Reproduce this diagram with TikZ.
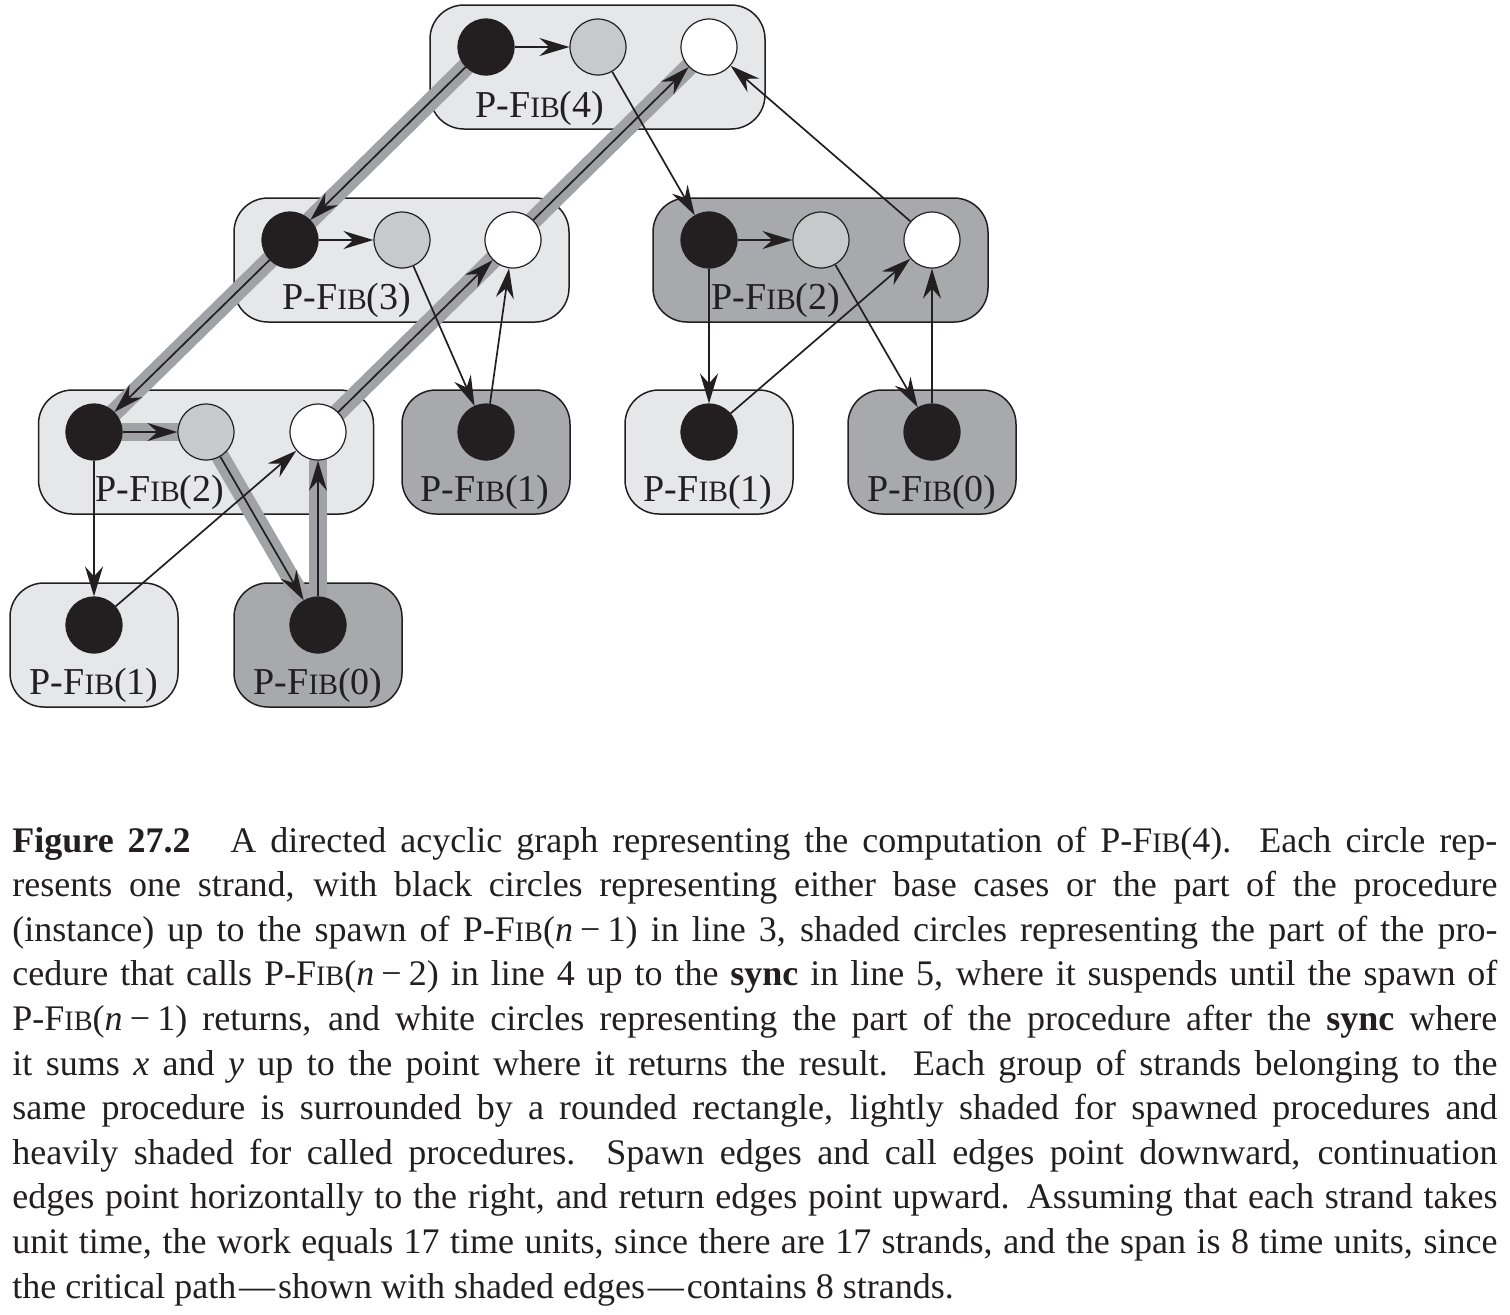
\documentclass[tikz,border=0pt]{standalone}
\usepackage{fontspec}
\setmainfont{Liberation Serif}
\usetikzlibrary{arrows.meta}
\definecolor{ink}{RGB}{35,31,32}
\definecolor{lightbox}{RGB}{230,231,232}
\definecolor{darkbox}{RGB}{167,169,172}
\definecolor{midgray}{RGB}{200,201,203}
\definecolor{bandgray}{RGB}{160,162,165}
\pgfdeclarelayer{boxes}
\pgfdeclarelayer{bands}
\pgfsetlayers{boxes,bands,main}
\newcommand{\labfont}{\fontsize{19pt}{20pt}\selectfont}
\newcommand{\capfont}{\fontsize{18pt}{22.3pt}\selectfont}
\newcommand{\pfl}[1]{P-F{\fontsize{14.8pt}{15pt}\selectfont IB}(#1)}
\newcommand{\pfc}[1]{P-F{\fontsize{14.1pt}{15pt}\selectfont IB}(#1)}
\newcommand{\jline}[1]{\hbox to 742.5pt{#1}}
\newcommand{\mn}{\kern0.2em−\kern0.2em}
\newcommand{\dsh}{\kern0.08em—\kern0.08em}
\begin{document}
\begin{tikzpicture}[x=0.5pt,y=-0.5pt,
  strand/.style={circle, minimum size=28pt, inner sep=0pt, draw=ink, line width=0.6pt},
  blk/.style={strand, fill=ink},
  shd/.style={strand, fill=midgray},
  wht/.style={strand, fill=white},
  procbox/.style={draw=ink, line width=0.75pt, rounded corners=17pt, inner sep=0pt, minimum height=62pt},
  wide/.style={minimum width=167.5pt},
  narrow/.style={minimum width=84pt},
  spawned/.style={procbox, fill=lightbox},
  called/.style={procbox, fill=darkbox},
  edge/.style={draw=ink, line width=0.85pt, -{Stealth[length=15pt,width=9pt,inset=5pt]}},
  crit/.style={draw=bandgray, line width=9pt},
  lbl/.style={font=\labfont, inner sep=0pt, text=ink}
]
\useasboundingbox (0,0) rectangle (1510,1314);

% strands
\node[blk] (a1) at (486,47) {};
\node[shd] (a2) at (598,47) {};
\node[wht] (a3) at (709,47) {};
\node[blk] (b1) at (290,240) {};
\node[shd] (b2) at (402,240) {};
\node[wht] (b3) at (513,240) {};
\node[blk] (c1) at (709,240) {};
\node[shd] (c2) at (821,240) {};
\node[wht] (c3) at (932,240) {};
\node[blk] (d1) at (94,432) {};
\node[shd] (d2) at (206,432) {};
\node[wht] (d3) at (318,432) {};
\node[blk] (e1) at (486,432) {};
\node[blk] (f1) at (709,432) {};
\node[blk] (g1) at (932,432) {};
\node[blk] (h1) at (94,625) {};
\node[blk] (i1) at (318,625) {};

% procedure boxes
\begin{pgfonlayer}{boxes}
\node[spawned, wide] (A) at (597.5,67) {};
\node[spawned, wide] (B) at (401.5,260) {};
\node[called, wide] (C) at (820.5,260) {};
\node[spawned, wide] (D) at (206,452) {};
\node[called, narrow] (E) at (486,452) {};
\node[spawned, narrow] (F) at (709,452) {};
\node[called, narrow] (G) at (932,452) {};
\node[spawned, narrow] (H) at (94,645) {};
\node[called, narrow] (I) at (318,645) {};
\end{pgfonlayer}

% critical path bands
\begin{pgfonlayer}{bands}
\draw[crit] (a1.center) -- (b1.center);
\draw[crit] (b1.center) -- (d1.center);
\draw[crit] (d1.center) -- (d2.center);
\draw[crit] (d2.center) -- (i1.center);
\draw[crit] (i1.center) -- (d3.center);
\draw[crit] (d3.center) -- (b3.center);
\draw[crit] (b3.center) -- (a3.center);
\end{pgfonlayer}

% labels
\node[lbl, anchor=base west] (lA) at (475,117) {\pfl{4}};
\node[lbl, anchor=base west] (lB) at (282,309) {\pfl{3}};
\node[lbl, anchor=base west] (lC) at (711,309) {\pfl{2}};
\node[lbl, anchor=base west] (lD) at (95,501) {\pfl{2}};
\node[lbl, anchor=base] (lE) at (485,501) {\pfl{1}};
\node[lbl, anchor=base] (lF) at (708,501) {\pfl{1}};
\node[lbl, anchor=base] (lG) at (932,501) {\pfl{0}};
\node[lbl, anchor=base] (lH) at (94,694) {\pfl{1}};
\node[lbl, anchor=base] (lI) at (318,694) {\pfl{0}};

% continuation edges
\draw[edge] (a1) -- (a2);
\draw[edge] (b1) -- (b2);
\draw[edge] (c1) -- (c2);
\draw[edge] (d1) -- (d2);
% spawn and call edges
\draw[edge] (a1) -- (b1);
\draw[edge] (a2) -- (c1);
\draw[edge] (b1) -- (d1);
\draw[edge] (b2) -- (e1);
\draw[edge] (c1) -- (f1);
\draw[edge] (c2) -- (g1);
\draw[edge] (d1) -- (h1);
\draw[edge] (d2) -- (i1);
% return edges
\draw[edge] (b3) -- (a3);
\draw[edge] (c3) -- (a3);
\draw[edge] (e1) -- (b3);
\draw[edge] (d3) -- (b3);
\draw[edge] (f1) -- (c3);
\draw[edge] (g1) -- (c3);
\draw[edge] (h1) -- (d3);
\draw[edge] (i1) -- (d3);

% caption
\node[anchor=base west, inner sep=0pt, text=ink] (cap) at (12,852) {\capfont\vtop{\hsize=742.5pt\baselineskip=22.3pt
\jline{\textbf{Figure 27.2}\hspace{1.1em}A directed acyclic graph representing the computation of \pfc{4}.\ \ Each circle rep-}
\jline{resents one strand, with black circles representing either base cases or the part of the procedure}
\jline{(instance) up to the spawn of \pfc{\textit{n}\mn 1} in line 3, shaded circles representing the part of the pro-}
\jline{cedure that calls \pfc{\textit{n}\mn 2} in line 4 up to the \textbf{sync} in line 5, where it suspends until the spawn of}
\jline{\pfc{\textit{n}\mn 1} returns, and white circles representing the part of the procedure after the \textbf{sync} where}
\jline{it sums \textit{x} and \textit{y} up to the point where it returns the result. Each group of strands belonging to the}
\jline{same procedure is surrounded by a rounded rectangle, lightly shaded for spawned procedures and}
\jline{heavily shaded for called procedures.\ \ Spawn edges and call edges point downward, continuation}
\jline{edges point horizontally to the right, and return edges point upward. Assuming that each strand takes}
\jline{unit time, the work equals 17 time units, since there are 17 strands, and the span is 8 time units, since}
\hbox{the critical path\dsh shown with shaded edges\dsh contains 8 strands.}
}};
\end{tikzpicture}
\end{document}
